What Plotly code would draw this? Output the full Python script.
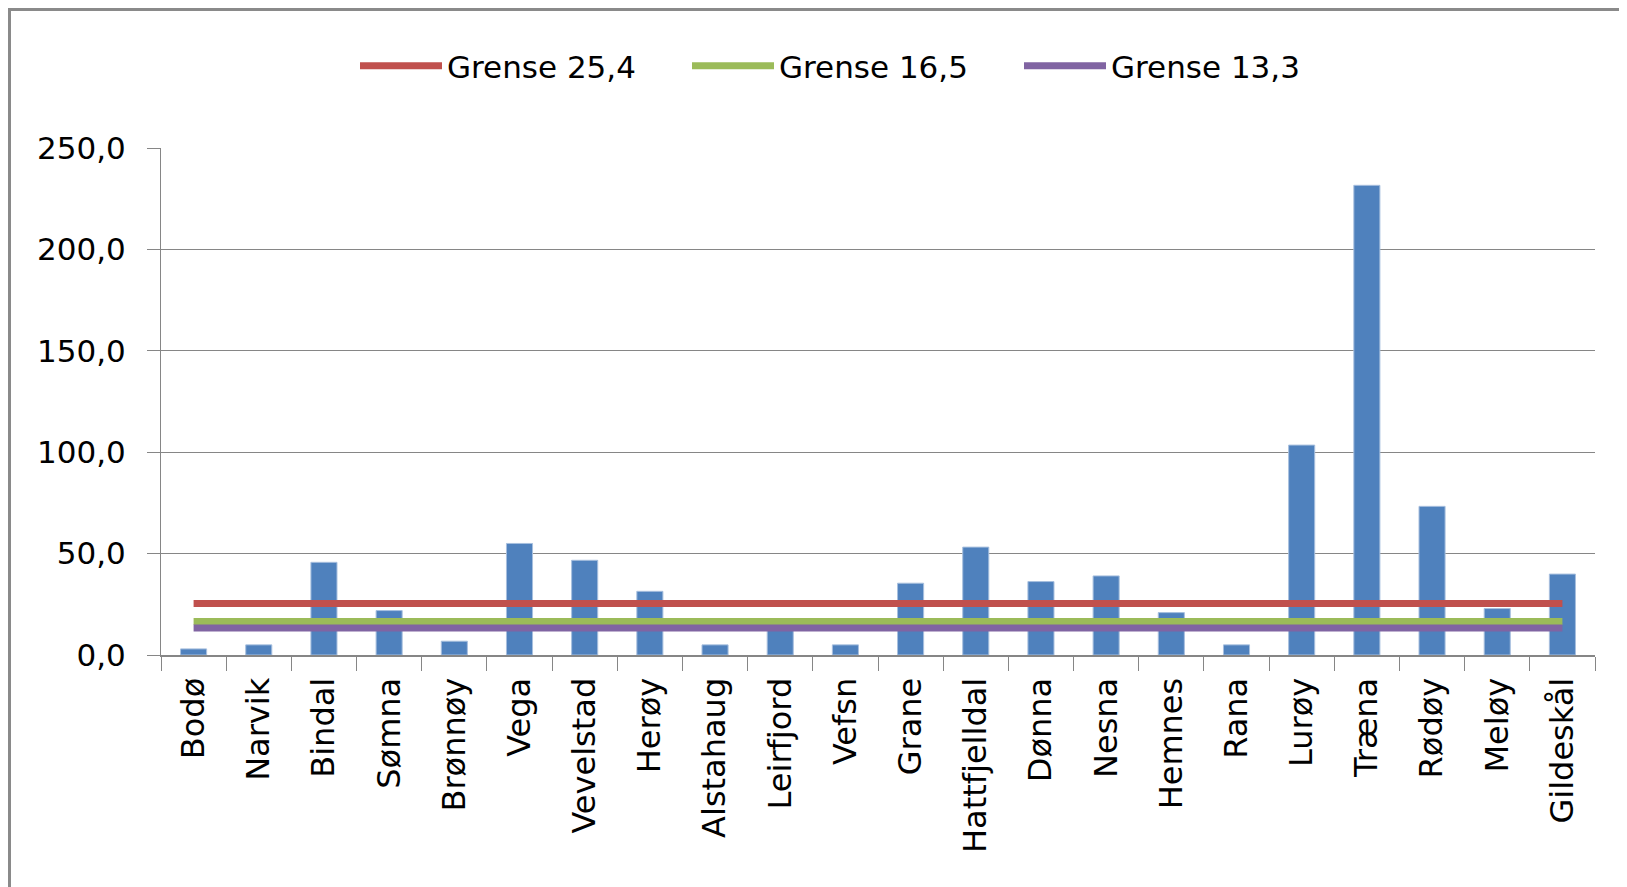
import plotly.graph_objects as go

categories = ["Bodø", "Narvik", "Bindal", "Sømna", "Brønnøy", "Vega", "Vevelstad", "Herøy",
              "Alstahaug", "Leirfjord", "Vefsn", "Grane", "Hattfjelldal", "Dønna", "Nesna",
              "Hemnes", "Rana", "Lurøy", "Træna", "Rødøy", "Meløy", "Gildeskål"]
values = [3.0, 5.0, 45.7, 21.9, 6.8, 55.0, 46.7, 31.4, 5.0, 13.0, 5.0,
          35.4, 53.2, 36.2, 39.0, 20.9, 5.0, 103.5, 231.6, 73.3, 22.9, 39.9]
limit_names = ["Grense 25,4", "Grense 16,5", "Grense 13,3"]
limit_values = [25.4, 16.5, 13.3]
limit_colors = ["#C0504D", "#9BBB59", "#8064A2"]

# page has an 8px body margin, so the figure is drawn 8px smaller
W, H = 1619, 879
L, R, T, B = 153, 32, 140, 232
FONT = "DejaVu Sans"
GRAY = "#868686"

fig = go.Figure()
fig.add_trace(go.Bar(x=categories, y=values,
                     marker=dict(color="#4F81BD", line=dict(color="#A7BFDE", width=1)),
                     showlegend=False, hoverinfo="x+y"))
for name, v, c in zip(limit_names, limit_values, limit_colors):
    fig.add_trace(go.Scatter(x=categories, y=[v] * len(categories), mode="lines", name=name,
                             line=dict(color=c, width=7)))

pw = W - L - R
ph = H - T - B
fig.add_shape(type="rect", xref="paper", yref="paper",
              x0=(1.5 - L) / pw, x1=(W + 20 - L) / pw,
              y0=(-30 - B) / ph, y1=(H - 1.5 - B) / ph,
              line=dict(color="#8A8A8A", width=3), fillcolor="rgba(0,0,0,0)", layer="below")

fig.update_layout(
    width=W, height=H,
    margin=dict(l=L, r=R, t=T, b=B, pad=0),
    paper_bgcolor="white", plot_bgcolor="white",
    font=dict(family=FONT, size=31, color="#000000"),
    separators=", ",
    bargap=0.6,
    legend=dict(orientation="h", xref="container", yref="container", x=(355 - 8) / W, xanchor="left",
                y=1 - 58 / H, yanchor="middle", font=dict(size=31), itemwidth=82, entrywidth=235,
                bgcolor="rgba(0,0,0,0)"),
    xaxis=dict(type="category", range=[-0.5, len(categories) - 0.5], tickangle=-90,
               showline=True, linecolor=GRAY, linewidth=2, ticks="outside", tickson="boundaries",
               ticklen=14, tickcolor=GRAY, tickwidth=1, showgrid=False, tickfont=dict(size=32),
               ticklabelstandoff=8),
    yaxis=dict(range=[0, 250], dtick=50, tickformat=".1f", showline=True, linecolor=GRAY, linewidth=1,
               ticks="outside", ticklen=13, tickcolor=GRAY, tickwidth=1, showgrid=True, gridcolor=GRAY,
               gridwidth=1, zeroline=False, tickfont=dict(size=31), ticklabelstandoff=15),
)
fig.write_html("out.html")
